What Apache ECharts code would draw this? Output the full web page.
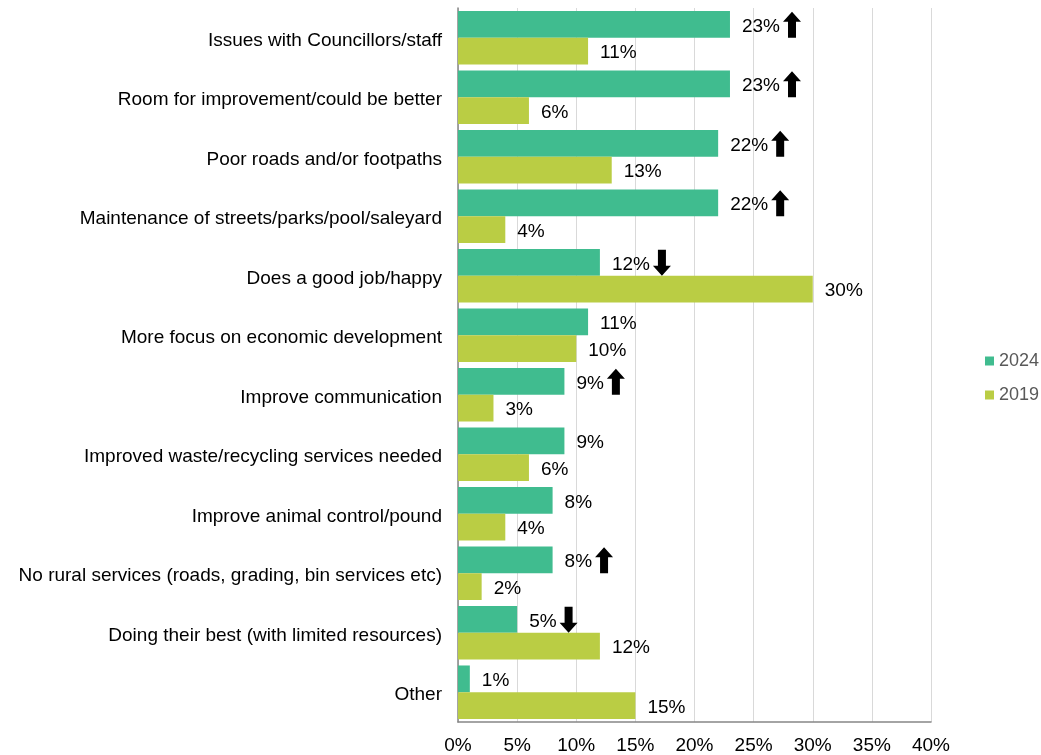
<!DOCTYPE html>
<html>
<head>
<meta charset="utf-8">
<style>
  html, body { margin: 0; padding: 0; background: #fff; }
  #chart { width: 1041px; height: 755px; }
</style>
<script src="https://cdn.jsdelivr.net/npm/echarts@6/dist/echarts.min.js"></script>
</head>
<body>
<div id="chart"></div>
<script>
const categories = [
  'Issues with Councillors/staff',
  'Room for improvement/could be better',
  'Poor roads and/or footpaths',
  'Maintenance of streets/parks/pool/saleyard',
  'Does a good job/happy',
  'More focus on economic development',
  'Improve communication',
  'Improved waste/recycling services needed',
  'Improve animal control/pound',
  'No rural services (roads, grading, bin services etc)',
  'Doing their best (with limited resources)',
  'Other'
];
const values2024 = [23, 23, 22, 22, 12, 11, 9, 9, 8, 8, 5, 1];
const values2019 = [11, 6, 13, 4, 30, 10, 3, 6, 4, 2, 12, 15];
// significant change markers for 2024: 'up', 'down' or null
const change2024 = ['up', 'up', 'up', 'up', 'down', null, 'up', null, null, 'up', 'down', null];
const xTicks = [0, 5, 10, 15, 20, 25, 30, 35, 40];

const FONT = 'Liberation Sans, Arial, sans-serif';
const FONT_SIZE = 19;
const LABEL_GAP = 12;

// width of a value label, so the arrow sits just past it
const ctx = document.createElement('canvas').getContext('2d');
ctx.font = FONT_SIZE + 'px ' + FONT;
const textWidth = s => ctx.measureText(s).width;

const ARROW = 'path://M9,0 L18,10 L13,10 L13,26 L5,26 L5,10 L0,10 Z';

const arrowData = [];
change2024.forEach((dir, i) => {
  if (!dir) return;
  const v = values2024[i];
  arrowData.push({
    value: [v, categories[i]],
    symbolRotate: dir === 'down' ? 180 : 0,
    symbolOffset: [LABEL_GAP + textWidth(v + '%') + 12, -13]
  });
});

const valueLabel = {
  show: true,
  position: 'right',
  distance: LABEL_GAP,
  offset: [0, 2],
  fontSize: FONT_SIZE,
  color: '#000',
  formatter: p => p.value + '%'
};

const chart = echarts.init(document.getElementById('chart'));
chart.setOption({
  animation: false,
  textStyle: { fontFamily: FONT },
  grid: { left: 458, right: 110, top: 8, bottom: 32, containLabel: false },
  legend: {
    orient: 'vertical',
    left: 980,
    top: 347,
    itemWidth: 9,
    itemHeight: 9,
    itemGap: 16,
    icon: 'rect',
    textStyle: { fontSize: 18, color: '#595959', fontFamily: FONT },
    data: ['2024', '2019']
  },
  xAxis: {
    type: 'value',
    min: 0,
    max: 40,
    interval: 5,
    axisLine: { show: true, lineStyle: { color: '#868686', width: 1.5 } },
    axisTick: { show: false },
    splitLine: { show: true, lineStyle: { color: '#d9d9d9', width: 1 } },
    axisLabel: {
      fontSize: FONT_SIZE,
      color: '#000',
      margin: 14,
      formatter: v => v + '%',
      customValues: xTicks
    }
  },
  yAxis: {
    type: 'category',
    inverse: true,
    data: categories,
    axisLine: { show: true, lineStyle: { color: '#868686', width: 1.5 } },
    axisTick: { show: false },
    axisLabel: {
      color: '#000',
      margin: 16,
      formatter: v => '{c|' + v + '}',
      rich: { c: { fontSize: FONT_SIZE, color: '#000', fontFamily: FONT, padding: [6, 0, 0, 0] } }
    }
  },
  series: [
    {
      name: '2024',
      type: 'bar',
      data: values2024,
      barGap: '0%',
      barCategoryGap: '10%',
      itemStyle: { color: '#40bc8f' },
      label: valueLabel
    },
    {
      name: '2019',
      type: 'bar',
      data: values2019,
      barGap: '0%',
      barCategoryGap: '10%',
      itemStyle: { color: '#bacd44' },
      label: valueLabel
    },
    {
      name: 'change',
      type: 'scatter',
      data: arrowData,
      symbol: ARROW,
      symbolSize: [18, 26],
      itemStyle: { color: '#000', opacity: 1 },
      silent: true,
      z: 5
    }
  ]
});
</script>
</body>
</html>
